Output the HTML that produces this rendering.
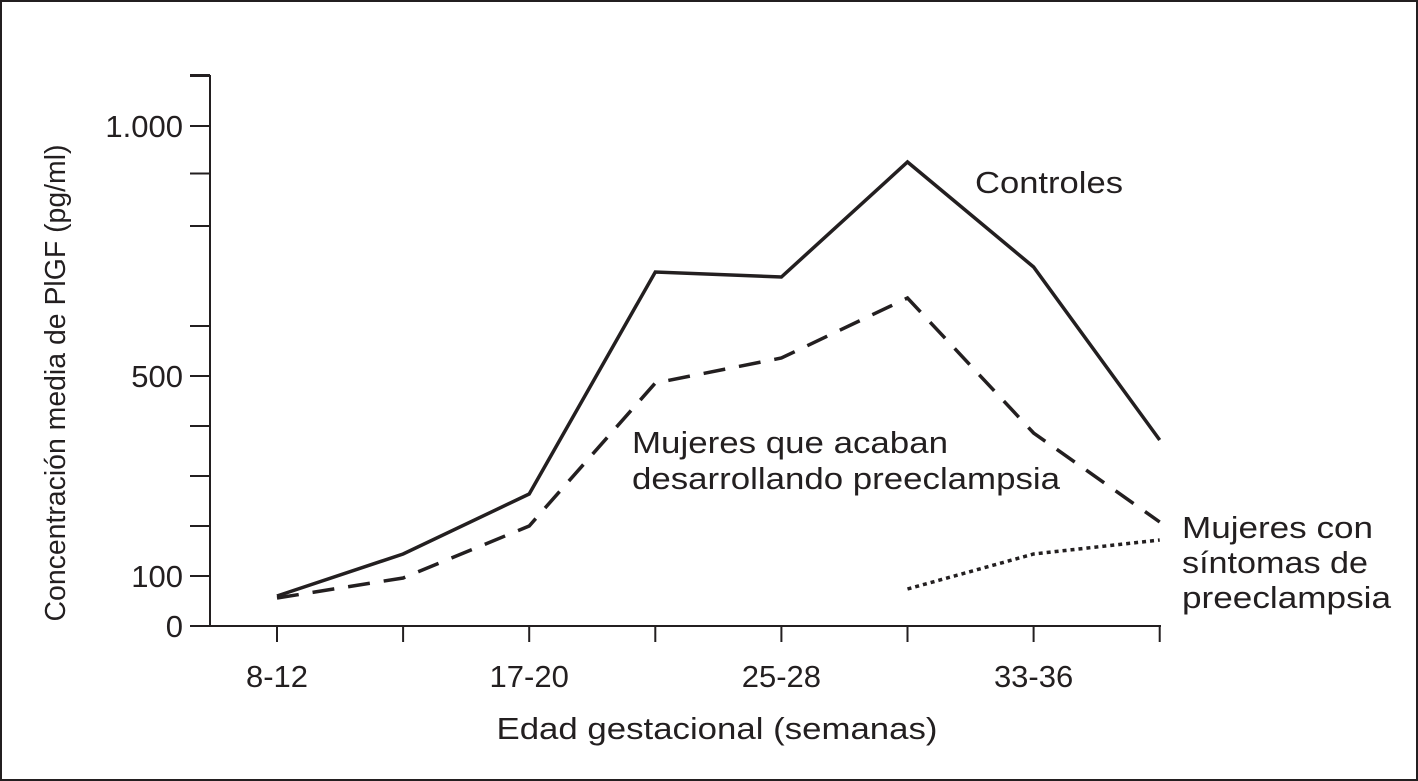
<!DOCTYPE html>
<html><head><meta charset="utf-8"><style>
body{margin:0;background:#fff;}
svg{display:block;font-family:"Liberation Sans",Arial,sans-serif;}
</style></head><body>
<svg id="chart" width="1418" height="781">
<rect x="1" y="1" width="1416" height="779" fill="#fff" stroke="#231f20" stroke-width="2"/>
<g id="axes"></g>
<g id="series"></g>
<text x="975" y="193" font-size="31" textLength="148" lengthAdjust="spacingAndGlyphs" fill="#231f20">Controles</text>
<text font-size="31" fill="#231f20"><tspan x="632" y="453" textLength="316" lengthAdjust="spacingAndGlyphs">Mujeres que acaban</tspan><tspan x="632" y="489" textLength="428" lengthAdjust="spacingAndGlyphs">desarrollando preeclampsia</tspan></text>
<text font-size="31" fill="#231f20"><tspan x="1182" y="538" textLength="191" lengthAdjust="spacingAndGlyphs">Mujeres con</tspan><tspan x="1182" y="573" textLength="186" lengthAdjust="spacingAndGlyphs">síntomas de</tspan><tspan x="1182" y="608" textLength="209" lengthAdjust="spacingAndGlyphs">preeclampsia</tspan></text>
<text x="717" y="739" font-size="31" text-anchor="middle" textLength="441" lengthAdjust="spacingAndGlyphs" fill="#231f20">Edad gestacional (semanas)</text>
<text transform="translate(65,383) rotate(-90)" font-size="29" text-anchor="middle" textLength="477" lengthAdjust="spacingAndGlyphs" fill="#231f20">Concentración media de PlGF (pg/ml)</text>
</svg>
<script>
const xSlots = [0,1,2,3,4,5,6,7];
const xTickLabels = ["8-12","","17-20","","25-28","","33-36",""];
const yTickValues = [0,100,200,300,400,500,600,800,905,1000,1100];
const yTickLabels = {0:"0",100:"100",500:"500",1000:"1.000"};
const controles = [60,144,264,708,698,928,718,372];
const preeclampsiaLater = [56,96,200,486,536,656,386,208];
const symptomSlots = [5,6,7];
const symptoms = [74,144,172];

const NS="http://www.w3.org/2000/svg";
const xPos = i => 277 + i*126.1;
const yPos = v => 626 - 0.5*v;
const axes=document.getElementById('axes'), series=document.getElementById('series');
function mk(tag,attrs,parent){const e=document.createElementNS(NS,tag);for(const k in attrs)e.setAttribute(k,attrs[k]);parent.appendChild(e);return e;}
const stroke={stroke:"#231f20","stroke-width":2,fill:"none"};
let ya=mk('line',Object.assign({x1:210,y1:75,x2:210,y2:627},stroke),axes);


let xa=mk('line',Object.assign({x1:209,y1:626,x2:1161,y2:626},stroke),axes);


yTickValues.forEach(v=>{
  const t=mk('line',Object.assign({x1:190,y1:yPos(v),x2:210,y2:yPos(v)},stroke),axes);
  
  
  if(yTickLabels[v]!==undefined){
    const l=mk('text',{x:183,y:yPos(v)+11,"font-size":31,"text-anchor":"end",fill:"#231f20"},axes);
    l.textContent=yTickLabels[v];
    
    
  }
});
const ytop=mk('line',Object.assign({x1:190,y1:75,x2:210,y2:75},stroke),axes);


xSlots.forEach(i=>{
  const t=mk('line',Object.assign({x1:xPos(i),y1:626,x2:xPos(i),y2:642},stroke),axes);
  
  
  if(xTickLabels[i]){
    const l=mk('text',{x:xPos(i),y:687,"font-size":31,"text-anchor":"middle",fill:"#231f20"},axes);
    l.textContent=xTickLabels[i];
    
    
  }
});
function pl(slots,vals,extra){
  const pts=slots.map((s,k)=>xPos(s)+","+yPos(vals[k])).join(" ");
  return mk('polyline',Object.assign({points:pts,stroke:"#231f20",fill:"none","stroke-width":3.5},extra),series);
}
const l1=pl(xSlots,controles,{});


const l2=pl(xSlots,preeclampsiaLater,{"stroke-dasharray":"22 14"});


const l3=pl(symptomSlots,symptoms,{"stroke-dasharray":"4 4"});


</script>
</body></html>
